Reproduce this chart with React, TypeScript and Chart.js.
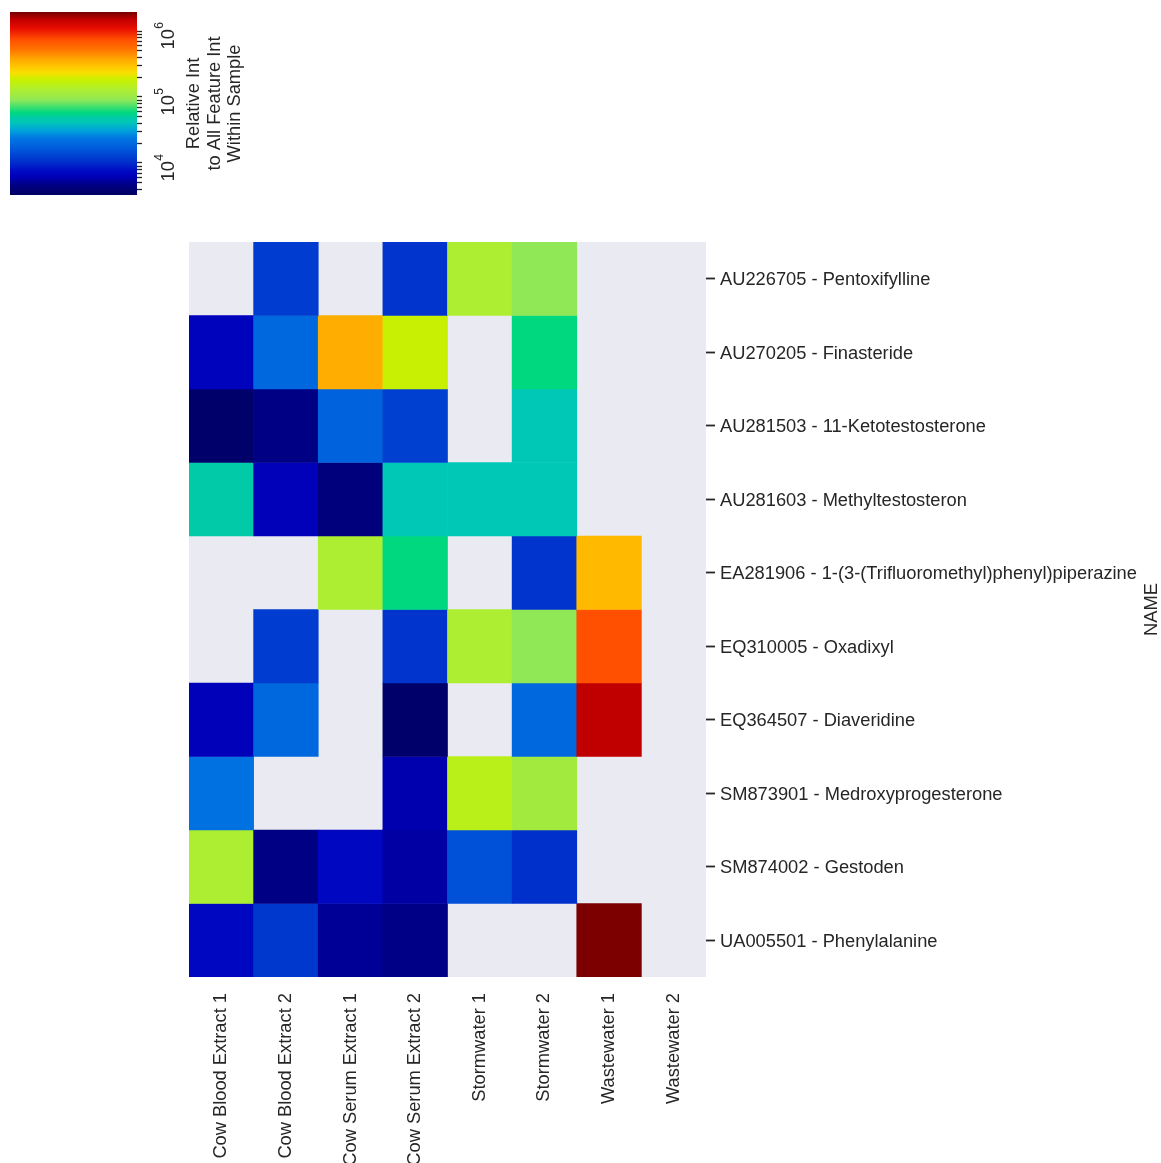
import React, { useEffect, useRef } from 'react';
import { Chart, registerables } from 'chart.js';

Chart.register(...registerables);

// ---------- data ----------
const samples = [
  'Cow Blood Extract 1',
  'Cow Blood Extract 2',
  'Cow Serum Extract 1',
  'Cow Serum Extract 2',
  'Stormwater 1',
  'Stormwater 2',
  'Wastewater 1',
  'Wastewater 2',
];

const compounds = [
  'AU226705 - Pentoxifylline',
  'AU270205 - Finasteride',
  'AU281503 - 11-Ketotestosterone',
  'AU281603 - Methyltestosteron',
  'EA281906 - 1-(3-(Trifluoromethyl)phenyl)piperazine',
  'EQ310005 - Oxadixyl',
  'EQ364507 - Diaveridine',
  'SM873901 - Medroxyprogesterone',
  'SM874002 - Gestoden',
  'UA005501 - Phenylalanine',
];

// relative intensity per sample (null = not detected)
const pentoxifylline = [null, 1.2e4, null, 1.1e4, 1.3e5, 9.1e4, null, null];
const finasteride = [6.6e3, 1.95e4, 3.6e5, 1.8e5, null, 5.8e4, null, null];
const ketotestosterone = [3.5e3, 4.6e3, 1.85e4, 1.25e4, null, 4.2e4, null, null];
const methyltestosteron = [4.8e4, 6.3e3, 4.3e3, 4.2e4, 4.2e4, 4.2e4, null, null];
const tfmpp = [null, null, 1.3e5, 5.8e4, null, 1.1e4, 3.2e5, null];
const oxadixyl = [null, 1.2e4, null, 1.1e4, 1.3e5, 9.1e4, 7.4e5, null];
const diaveridine = [6.3e3, 1.95e4, null, 3.5e3, null, 1.95e4, 1.5e6, null];
const medroxyprogesterone = [2.2e4, null, null, 5.9e3, 1.5e5, 1.1e5, null, null];
const gestoden = [1.3e5, 4.6e3, 7.1e3, 5.5e3, 1.5e4, 1.05e4, null, null];
const phenylalanine = [7.1e3, 1.15e4, 5.1e3, 4.7e3, null, null, 1.9e6, null];

const intensityRows: (number | null)[][] = [
  pentoxifylline,
  finasteride,
  ketotestosterone,
  methyltestosteron,
  tfmpp,
  oxadixyl,
  diaveridine,
  medroxyprogesterone,
  gestoden,
  phenylalanine,
];

// colour scale range (log10)
const LOG_MIN = 3.515;
const LOG_MAX = 6.288;
const colorbarExponents = [4, 5, 6];
const colorbarTitle = ['Relative Int', 'to All Feature Int', 'Within Sample'];

// ---------- styling ----------
const FONT = '"Liberation Sans", Arial, Helvetica, sans-serif';
const TEXT = '#262626';
const BG = '#eaeaf2';
const FS = 18.3;

const CMAP: [number, number, number, number][] = [
  [0.0, 0, 0, 100],
  [0.05, 0, 0, 128],
  [0.1, 0, 0, 184],
  [0.13, 0, 10, 196],
  [0.18, 0, 46, 204],
  [0.21, 0, 64, 208],
  [0.24, 0, 82, 216],
  [0.28, 0, 104, 222],
  [0.31, 0, 118, 226],
  [0.35, 0, 160, 220],
  [0.4, 0, 200, 182],
  [0.42, 0, 202, 168],
  [0.45, 0, 216, 128],
  [0.52, 144, 232, 88],
  [0.55, 162, 234, 62],
  [0.58, 176, 238, 48],
  [0.6, 186, 240, 24],
  [0.63, 200, 240, 0],
  [0.67, 250, 222, 0],
  [0.72, 255, 184, 0],
  [0.74, 255, 170, 0],
  [0.8, 255, 112, 0],
  [0.85, 255, 78, 0],
  [0.91, 232, 12, 0],
  [0.96, 192, 0, 0],
  [1.0, 118, 0, 0],
];

function cmap(t: number): string {
  const tt = Math.max(0, Math.min(1, t));
  for (let i = 1; i < CMAP.length; i++) {
    const a = CMAP[i - 1];
    const b = CMAP[i];
    if (tt <= b[0]) {
      const f = (tt - a[0]) / (b[0] - a[0] || 1);
      const r = Math.round(a[1] + (b[1] - a[1]) * f);
      const g = Math.round(a[2] + (b[2] - a[2]) * f);
      const bl = Math.round(a[3] + (b[3] - a[3]) * f);
      return `rgb(${r},${g},${bl})`;
    }
  }
  const l = CMAP[CMAP.length - 1];
  return `rgb(${l[1]},${l[2]},${l[3]})`;
}

function colorFor(v: number): string {
  return cmap((Math.log10(v) - LOG_MIN) / (LOG_MAX - LOG_MIN));
}

const bgPlugin = {
  id: 'heatBg',
  beforeDatasetsDraw(chart: any) {
    const { ctx, chartArea } = chart;
    ctx.save();
    ctx.fillStyle = BG;
    ctx.fillRect(chartArea.left, chartArea.top, chartArea.right - chartArea.left, chartArea.bottom - chartArea.top);
    ctx.restore();
  },
};

const nameTitlePlugin = {
  id: 'nameTitle',
  afterDraw(chart: any) {
    const { ctx, chartArea } = chart;
    ctx.save();
    ctx.translate(chart.width - 9, (chartArea.top + chartArea.bottom) / 2);
    ctx.rotate(-Math.PI / 2);
    ctx.font = `${FS}px ${FONT}`;
    ctx.fillStyle = TEXT;
    ctx.textAlign = 'center';
    ctx.textBaseline = 'middle';
    ctx.fillText('NAME', 0, 0);
    ctx.restore();
  },
};

const colorbarLabelsPlugin = {
  id: 'cbLabels',
  afterDraw(chart: any) {
    const { ctx, chartArea } = chart;
    const y = chart.scales.y;
    ctx.save();
    ctx.fillStyle = TEXT;
    colorbarExponents.forEach((e) => {
      const py = y.getPixelForValue(Math.pow(10, e));
      ctx.save();
      ctx.translate(chartArea.right + 36.5, py + 5);
      ctx.rotate(-Math.PI / 2);
      ctx.textAlign = 'left';
      ctx.textBaseline = 'alphabetic';
      ctx.font = `${FS}px ${FONT}`;
      const w10 = ctx.measureText('10').width;
      ctx.font = `12px ${FONT}`;
      const ws = ctx.measureText(String(e)).width;
      const start = -(w10 + ws) / 2;
      ctx.font = `${FS}px ${FONT}`;
      ctx.fillText('10', start, 0);
      ctx.font = `12px ${FONT}`;
      ctx.fillText(String(e), start + w10 + 0.5, -11);
      ctx.restore();
    });
    const cy = (chartArea.top + chartArea.bottom) / 2;
    colorbarTitle.forEach((line, i) => {
      ctx.save();
      ctx.translate(chartArea.right + 62 + i * 20.5, cy);
      ctx.rotate(-Math.PI / 2);
      ctx.font = `${FS}px ${FONT}`;
      ctx.textAlign = 'center';
      ctx.textBaseline = 'alphabetic';
      ctx.fillText(line, 0, 0);
      ctx.restore();
    });
    ctx.restore();
  },
};

export default function App() {
  const mainRef = useRef<HTMLCanvasElement>(null);
  const cbRef = useRef<HTMLCanvasElement>(null);

  useEffect(() => {
    if (!mainRef.current || !cbRef.current) return;

    const datasets = intensityRows.map((row, r) => ({
      label: compounds[r],
      data: row
        .map((v, c) => (v == null ? null : { x: samples[c], y: [r - 0.5, r + 0.5], v }))
        .filter((d) => d !== null),
      backgroundColor: (ctx: any) => (ctx.raw && ctx.raw.v ? colorFor(ctx.raw.v) : 'rgba(0,0,0,0)'),
      borderWidth: 0,
      grouped: false,
      barPercentage: 1,
      categoryPercentage: 1,
    }));

    const main = new Chart(mainRef.current, {
      type: 'bar',
      data: { labels: samples, datasets: datasets as any },
      options: {
        responsive: false,
        animation: false,
        layout: { padding: { left: 189, top: 242, right: 0, bottom: 0 } },
        plugins: { legend: { display: false }, tooltip: { enabled: false } },
        scales: {
          x: {
            type: 'category',
            grid: { display: false, drawTicks: false },
            border: { display: false },
            ticks: {
              minRotation: 90,
              maxRotation: 90,
              autoSkip: false,
              padding: 16,
              color: TEXT,
              font: { size: FS, family: FONT },
            },
            afterFit: (s: any) => {
              s.height = 186;
            },
          },
          y: {
            type: 'linear',
            position: 'right',
            reverse: true,
            min: -0.5,
            max: 9.5,
            afterBuildTicks: (s: any) => {
              s.ticks = compounds.map((_, i) => ({ value: i }));
            },
            ticks: {
              autoSkip: false,
              padding: 5,
              labelOffset: 1.5,
              color: TEXT,
              font: { size: FS, family: FONT },
              callback: (v: any) => compounds[v as number],
            },
            grid: { drawOnChartArea: false, drawTicks: true, tickLength: 9, tickWidth: 1.8, tickColor: TEXT },
            border: { display: false },
            afterFit: (s: any) => {
              s.width = 455;
            },
          },
        },
      } as any,
      plugins: [bgPlugin, nameTitlePlugin],
    });

    const vmin = Math.pow(10, LOG_MIN);
    const vmax = Math.pow(10, LOG_MAX);
    const cbTicks: number[] = [];
    for (let e = 3; e <= 6; e++) {
      for (let k = 1; k <= 9; k++) {
        const v = k * Math.pow(10, e);
        if (v >= vmin && v <= vmax) cbTicks.push(v);
      }
    }

    const cb = new Chart(cbRef.current, {
      type: 'bar',
      data: {
        labels: ['scale'],
        datasets: [
          {
            data: [[vmin, vmax]] as any,
            backgroundColor: (ctx: any) => {
              const { chart } = ctx;
              const area = chart.chartArea;
              if (!area) return 'rgba(0,0,0,0)';
              const g = chart.ctx.createLinearGradient(0, area.bottom, 0, area.top);
              CMAP.forEach((s) => g.addColorStop(s[0], `rgb(${s[1]},${s[2]},${s[3]})`));
              return g;
            },
            borderWidth: 0,
            barPercentage: 1,
            categoryPercentage: 1,
          },
        ],
      },
      options: {
        responsive: false,
        animation: false,
        layout: { padding: { left: 10, top: 12, right: 0, bottom: 15 } },
        plugins: { legend: { display: false }, tooltip: { enabled: false } },
        scales: {
          x: { display: false },
          y: {
            type: 'logarithmic',
            position: 'right',
            min: vmin,
            max: vmax,
            afterBuildTicks: (s: any) => {
              s.ticks = cbTicks.map((v) => ({ value: v }));
            },
            ticks: { display: false },
            grid: { drawOnChartArea: false, drawTicks: true, tickLength: 5, tickWidth: 1.3, tickColor: TEXT },
            border: { display: false },
            afterFit: (s: any) => {
              s.width = 123;
            },
          },
        },
      } as any,
      plugins: [colorbarLabelsPlugin],
    });

    return () => {
      main.destroy();
      cb.destroy();
    };
  }, []);

  return (
    <div style={{ position: 'absolute', left: 0, top: 0, width: 1161, height: 1163, background: '#fff', overflow: 'hidden' }}>
      <canvas ref={mainRef} width={1161} height={1163} style={{ position: 'absolute', left: 0, top: 0, width: 1161, height: 1163 }} />
      <canvas ref={cbRef} width={260} height={210} style={{ position: 'absolute', left: 0, top: 0, width: 260, height: 210 }} />
    </div>
  );
}
